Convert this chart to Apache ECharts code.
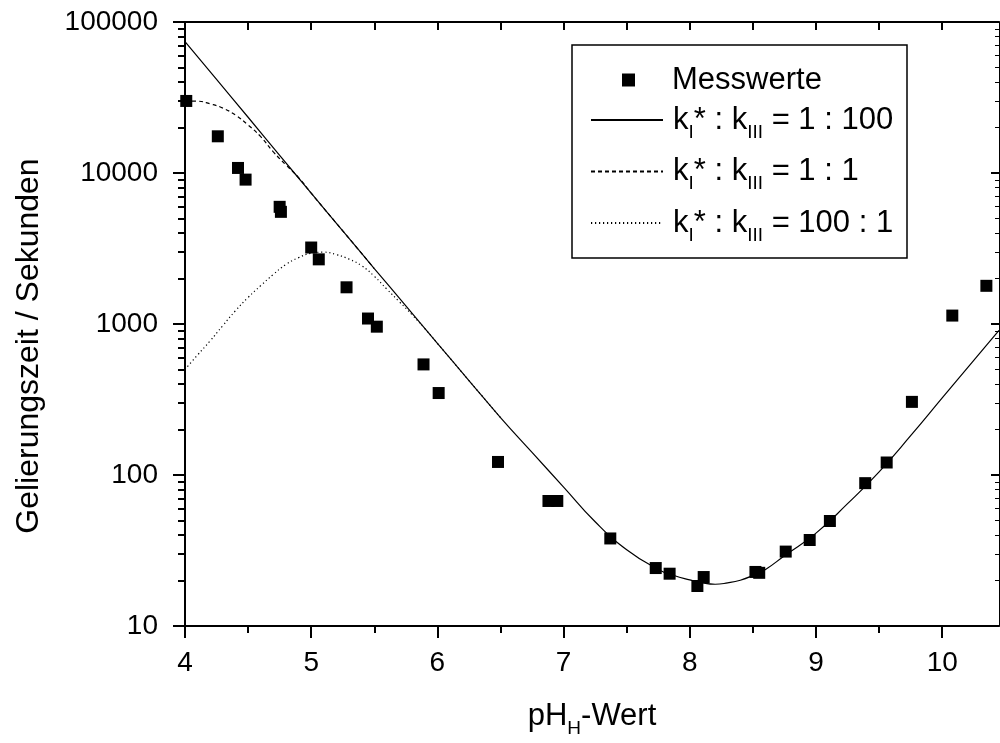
<!DOCTYPE html>
<html>
<head>
<meta charset="utf-8">
<script src="https://cdn.jsdelivr.net/npm/echarts@6/dist/echarts.min.js"></script>
<style>
  html, body { margin: 0; padding: 0; background: #fff; }
  #chart { width: 1000px; height: 743px; }
</style>
</head>
<body>
<div id="chart"></div>
<script>
const FONT = 'Arial, "Liberation Sans", Helvetica, sans-serif';

// Measured gelation times
const messPH   = [4.01, 4.26, 4.42, 4.48, 4.75, 4.76, 5.00, 5.06, 5.28, 5.45, 5.52, 5.89, 6.01, 6.48, 6.88, 6.95, 7.37,
                  7.73, 7.84, 8.06, 8.11, 8.52, 8.55, 8.76, 8.95, 9.11, 9.39, 9.56, 9.76, 10.08, 10.35];
const messZeit = [30000, 17500, 10800, 9040, 5970, 5530, 3210, 2680, 1750, 1087, 960, 540, 349, 122, 67.3, 67.3, 38.0,
                  24.2, 22.2, 18.4, 21.1, 22.8, 22.5, 31.1, 37.1, 49.6, 88.3, 121, 305, 1137, 1790];

// Model curve kI* : kIII = 1 : 100
const curvePH    = [4.0, 4.25, 4.5, 4.75, 5.0, 5.25, 5.5, 5.75, 6.0, 6.25, 6.5, 6.75, 7.0, 7.25, 7.5, 7.75, 7.875,
                    8.0, 8.1, 8.2, 8.3, 8.4, 8.5, 8.6, 8.75, 9.0, 9.25, 9.5, 9.75, 10.0, 10.25, 10.45];
const curve1_100 = [74100, 41700, 23400, 13100, 7350, 4140, 2330, 1320, 745, 422, 240, 141, 83.2, 49.0, 32.0, 23.7, 21.6,
                    20.2, 19.3, 18.9, 19.3, 20.1, 21.6, 23.7, 29.2, 41.2, 64.6, 105, 182, 324, 575, 906];

// Model curve kI* : kIII = 1 : 1 (joins the 1 : 100 curve above pH 5)
const dashPH   = [4.0, 4.1, 4.2, 4.3, 4.4, 4.5, 4.6, 4.7, 4.8, 4.9, 5.0, 5.25, 5.5];
const curve1_1 = [30000, 29900, 28700, 26900, 24200, 20800, 17400, 13800, 11300, 9330, 7350, 4140, 2330];

// Model curve kI* : kIII = 100 : 1 (joins the 1 : 100 curve near pH 6)
const dotPH      = [4.0, 4.1, 4.2, 4.3, 4.4, 4.5, 4.6, 4.7, 4.8, 4.9, 5.0, 5.1, 5.2, 5.3, 5.4, 5.5, 5.6, 5.7, 5.8, 5.9,
                    6.0, 6.25, 6.5];
const curve100_1 = [500, 624, 774, 977, 1225, 1500, 1795, 2130, 2480, 2750, 2940, 2990, 2880, 2690, 2430, 2070, 1700,
                    1400, 1150, 933, 745, 422, 240];

// Axis ticks
const xTicks      = [4, 5, 6, 7, 8, 9, 10];
const xMinorTicks = [4.5, 5.5, 6.5, 7.5, 8.5, 9.5];
const xTopTicks   = [4, 4.5, 5, 5.5, 6, 6.5, 7, 7.5, 8, 8.5, 9, 9.5, 10];
const yTicks      = [10, 100, 1000, 10000, 100000];
const yMinorTicks = [];
for (let d = 0; d < yTicks.length - 1; d++) {
  for (let m = 2; m <= 9; m++) yMinorTicks.push(m * yTicks[d]);
}

const X_MIN = 4, X_MAX = 10.45, Y_MIN = 10, Y_MAX = 100000;

const seriesNames = ['Messwerte', 'kI* : kIII = 1 : 100', 'kI* : kIII = 1 : 1', 'kI* : kIII = 100 : 1'];
const legendText = {
  'Messwerte': 'Messwerte',
  'kI* : kIII = 1 : 100': 'k{sub|I}* : k{sub|III} = 1 : 100',
  'kI* : kIII = 1 : 1': 'k{sub|I}* : k{sub|III} = 1 : 1',
  'kI* : kIII = 100 : 1': 'k{sub|I}* : k{sub|III} = 100 : 1'
};

const zip = (xs, ys) => xs.map((x, i) => [x, ys[i]]);

// subscript: small text pushed to the bottom of a tall line box
const subStyle = { fontFamily: FONT, fontSize: 19, lineHeight: 19, color: '#000', verticalAlign: 'bottom' };

const axisLineStyle = { color: '#000', width: 2 };
const tickStyle = { color: '#000', width: 2 };

function yAxisBase(extra) {
  return Object.assign({
    type: 'log', logBase: 10, min: Y_MIN, max: Y_MAX,
    splitLine: { show: false },
    axisLine: { show: false },
    axisLabel: { show: false },
    axisTick: { show: false }
  }, extra);
}
function xAxisBase(extra) {
  return Object.assign({
    type: 'value', min: X_MIN, max: X_MAX,
    splitLine: { show: false },
    axisLine: { show: false },
    axisLabel: { show: false },
    axisTick: { show: false }
  }, extra);
}

const chart = echarts.init(document.getElementById('chart'), null, { renderer: 'canvas' });

chart.setOption({
  animation: false,
  backgroundColor: '#fff',
  grid: { left: 185, right: 1, top: 22, bottom: 112 },
  xAxis: [
    xAxisBase({
      position: 'bottom',
      name: 'pH{sub|H}-Wert',
      nameLocation: 'middle',
      nameGap: 68,
      nameTextStyle: { fontFamily: FONT, fontSize: 31, lineHeight: 44, color: '#000', rich: { sub: subStyle } },
      axisLine: { show: true, onZero: false, lineStyle: axisLineStyle },
      axisTick: { show: true, inside: false, length: 12, lineStyle: tickStyle, customValues: xTicks },
      axisLabel: { show: true, customValues: xTicks, margin: 23, fontFamily: FONT, fontSize: 28, color: '#000',
                   formatter: v => String(v) }
    }),
    xAxisBase({
      position: 'bottom',
      axisTick: { show: true, inside: false, length: 7, lineStyle: tickStyle, customValues: xMinorTicks }
    }),
    xAxisBase({
      position: 'top',
      axisLine: { show: true, onZero: false, lineStyle: axisLineStyle },
      axisTick: { show: true, inside: true, length: 8, lineStyle: tickStyle, customValues: xTopTicks }
    })
  ],
  yAxis: [
    yAxisBase({
      position: 'left',
      name: 'Gelierungszeit / Sekunden',
      nameLocation: 'middle',
      nameGap: 140,
      // extra right padding moves the rotated title a little down along the axis
      nameTextStyle: { fontFamily: FONT, fontSize: 32, color: '#000', padding: [0, 44, 0, 0] },
      axisLine: { show: true, onZero: false, lineStyle: axisLineStyle },
      axisTick: { show: true, inside: false, length: 12, lineStyle: tickStyle, customValues: yTicks },
      axisLabel: { show: true, customValues: yTicks, margin: 27, fontFamily: FONT, fontSize: 28, color: '#000',
                   formatter: v => String(Math.round(v)) }
    }),
    yAxisBase({
      position: 'left',
      axisTick: { show: true, inside: false, length: 7, lineStyle: tickStyle, customValues: yMinorTicks }
    }),
    yAxisBase({
      position: 'right',
      axisLine: { show: true, onZero: false, lineStyle: { color: '#000', width: 1 } },
      axisTick: { show: true, inside: true, length: 8, lineStyle: tickStyle, customValues: yTicks }
    }),
    yAxisBase({
      position: 'right',
      axisTick: { show: true, inside: true, length: 4, lineStyle: { color: '#000', width: 1 }, customValues: yMinorTicks }
    })
  ],
  legend: [
    {
      data: [seriesNames[0]],
      orient: 'vertical', left: 622, top: 62, padding: 0,
      itemWidth: 13, itemHeight: 13, itemGap: 0,
      formatter: n => legendText[n],
      textStyle: { fontFamily: FONT, fontSize: 31, lineHeight: 36, color: '#000', padding: [0, 0, 0, 32] }
    },
    {
      data: seriesNames.slice(1),
      orient: 'vertical', left: 590, top: 98, padding: 0,
      itemWidth: 72, itemHeight: 12, itemGap: 7.5,
      itemStyle: { color: 'rgba(0,0,0,0)', borderWidth: 0, opacity: 0 },
      formatter: n => legendText[n],
      textStyle: { fontFamily: FONT, fontSize: 31, lineHeight: 44, color: '#000', padding: [0, 0, 0, 5],
                   rich: { sub: subStyle } }
    }
  ],
  graphic: [
    { type: 'rect', shape: { x: 572, y: 45, width: 335, height: 213 },
      style: { fill: 'none', stroke: '#000', lineWidth: 1.5 }, z: 0 }
  ],
  series: [
    {
      name: seriesNames[0], type: 'scatter', xAxisIndex: 0, yAxisIndex: 0,
      symbol: 'rect', symbolSize: 12, itemStyle: { color: '#000', opacity: 1 },
      data: zip(messPH, messZeit), z: 5
    },
    {
      name: seriesNames[1], type: 'line', xAxisIndex: 0, yAxisIndex: 0,
      symbol: 'none', smooth: true, lineStyle: { color: '#000', width: 1.2, type: 'solid' },
      itemStyle: { color: '#000' },
      data: zip(curvePH, curve1_100), z: 3
    },
    {
      name: seriesNames[2], type: 'line', xAxisIndex: 0, yAxisIndex: 0,
      symbol: 'none', smooth: true, lineStyle: { color: '#000', width: 1.2, type: [4, 3] },
      itemStyle: { color: '#000' },
      data: zip(dashPH, curve1_1), z: 3
    },
    {
      name: seriesNames[3], type: 'line', xAxisIndex: 0, yAxisIndex: 0,
      symbol: 'none', smooth: true, lineStyle: { color: '#000', width: 1.2, type: [1.2, 2.8] },
      itemStyle: { color: '#000' },
      data: zip(dotPH, curve100_1), z: 3
    }
  ]
});
</script>
</body>
</html>
